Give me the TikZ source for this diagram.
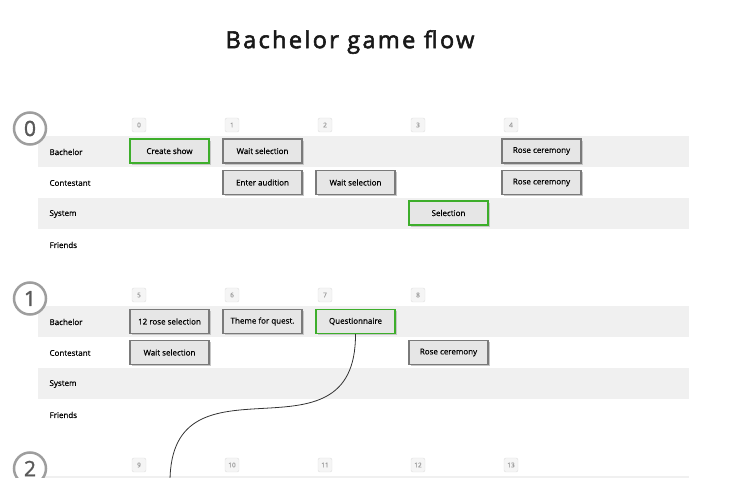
\documentclass[tikz,border=0pt]{standalone}
\usepackage{fontspec}
\setmainfont{Open Sans}[FakeBold=0.45]
\newfontfamily\titlefont[LetterSpace=10,FakeBold=2.4]{Open Sans}
\newfontfamily\labfont[FakeBold=0.45]{Open Sans}
\newfontfamily\secfont[FakeBold=1.6]{Open Sans}
\usepackage{xcolor}
\usepackage{tikz}
\usetikzlibrary{positioning}
\usetikzlibrary{shadows}
\definecolor{laneg}{HTML}{F0F0F0}
\definecolor{boxg}{HTML}{E6E6E6}
\definecolor{edgeg}{HTML}{7A7A7A}
\definecolor{okgreen}{HTML}{3DAE2B}

\begin{document}
\begin{tikzpicture}
               [x=1pt, y=-1pt,
                act/.style = {minimum width=79pt, minimum height=24pt, inner sep=0pt, draw=edgeg, line width=1.2pt, fill=boxg, font=\labfont\fontsize{8}{9}\selectfont, text=black, general shadow={fill=black!22, shadow xshift=2pt, shadow yshift=-2pt}},
                act1/.style = {act, draw=okgreen},
                idx/.style = {minimum size=14pt, inner sep=0pt, rounded corners=2pt, draw=black!13, fill=black!4, text=black!38, font=\labfont\fontsize{6.5}{7}\selectfont},
                sec/.style = {circle, minimum size=32pt, inner sep=0pt, draw=black!38, line width=2.5pt, fill=white, text=black!65, font=\secfont\fontsize{21}{21}\selectfont},
                who/.style = {anchor=west, font=\labfont\fontsize{8}{9}\selectfont, text=black}]
                \useasboundingbox (0,0) rectangle (732,478);
                % Title
                \node[font=\titlefont\fontsize{23.5}{24}\selectfont, text=black!90] (title) at (350,42) {Bachelor game flow};
                % Lanes (gray bands)
                \fill[laneg] (38,136) rectangle (689,167);
                \fill[laneg] (38,198) rectangle (689,229);
                \fill[laneg] (38,306) rectangle (689,337);
                \fill[laneg] (38,368) rectangle (689,399);
                \fill[laneg] (38,476) rectangle (689,507);
                % Section numbers
                \node[sec] (s0) at (30,128.5) {0};
                \node[sec] (s1) at (30,298.5) {1};
                \node[sec] (s2) at (30,468.5) {2};
                % Lane names
                \node[who] (w0b) at (46,152) {Bachelor};
                \node[who] (w0c) at (46,183) {Contestant};
                \node[who] (w0s) at (46,214) {System};
                \node[who] (w0f) at (46,245) {Friends};
                \node[who] (w1b) at (46,322) {Bachelor};
                \node[who] (w1c) at (46,353) {Contestant};
                \node[who] (w1s) at (46,384) {System};
                \node[who] (w1f) at (46,415) {Friends};
                % Step indices
                \node[idx] (i0) at (139,125) {0};
                \node[idx] (i1) at (232,125) {1};
                \node[idx] (i2) at (325,125) {2};
                \node[idx] (i3) at (418,125) {3};
                \node[idx] (i4) at (511,125) {4};
                \node[idx] (i5) at (139,295) {5};
                \node[idx] (i6) at (232,295) {6};
                \node[idx] (i7) at (325,295) {7};
                \node[idx] (i8) at (418,295) {8};
                \node[idx] (i9) at (139,465) {9};
                \node[idx] (i10) at (232,465) {10};
                \node[idx] (i11) at (325,465) {11};
                \node[idx] (i12) at (418,465) {12};
                \node[idx] (i13) at (511,465) {13};
                % Actions, flow 0
                \node[act1] (b0) at (169.5,151) {Create show};
                \node[act] (b1) at (262.5,151) {Wait selection};
                \node[act] (b4) at (541.5,151) {Rose ceremony};
                \node[act] (c1) at (262.5,182.5) {Enter audition};
                \node[act] (c2) at (355.5,182.5) {Wait selection};
                \node[act] (c4) at (541.5,182.5) {Rose ceremony};
                \node[act1] (y3) at (448.5,213) {Selection};
                % Actions, flow 1
                \node[act] (b5) at (169.5,321.5) {12 rose selection};
                \node[act] (b6) at (262.5,321.5) {Theme for quest.};
                \node[act1] (b7) at (355.5,321.5) {Questionnaire};
                \node[act] (c5) at (169.5,352.5) {Wait selection};
                \node[act] (c8) at (448.5,352.5) {Rose ceremony};
                % Link into flow 2
                \coordinate (down) at (170,482);
                \draw[black!80, line width=0.8pt] (b7.south) .. controls (356,472) and (170,345) .. (down);
            \end{tikzpicture}
\end{document}
